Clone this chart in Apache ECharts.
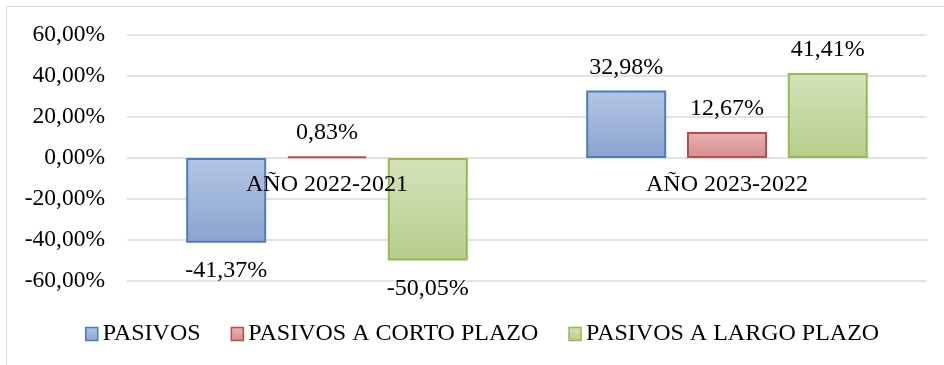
<!DOCTYPE html>
<html>
<head>
<meta charset="utf-8">
<script src="https://cdn.jsdelivr.net/npm/echarts@6/dist/echarts.min.js"></script>
<style>
  html, body { margin: 0; padding: 0; background: #ffffff; }
  #chart { width: 944px; height: 365px; }
</style>
</head>
<body>
<div id="chart"></div>
<script>
// Variación porcentual de los pasivos por periodo
const categories = ['AÑO 2022-2021', 'AÑO 2023-2022'];
const pasivos = [-41.37, 32.98];
const pasivosCorto = [0.83, 12.67];
const pasivosLargo = [-50.05, 41.41];
const seriesNames = ['PASIVOS', 'PASIVOS A CORTO PLAZO', 'PASIVOS A LARGO PLAZO'];
const yTicks = { min: -60, max: 60, interval: 20 };

const FONT = 'Liberation Serif';
const GRID = { left: 127, right: 17, top: 35, bottom: 84 };

function pct(v) {
  return v.toFixed(2).replace('.', ',') + '%';
}

function grad(top, bottom) {
  return new echarts.graphic.LinearGradient(0, 0, 0, 1, [
    { offset: 0, color: top },
    { offset: 1, color: bottom }
  ]);
}

const palettes = [
  { top: '#b3c5e4', bottom: '#8ba4cf', border: '#4a7ebb' },
  { top: '#e6b4b3', bottom: '#d48d8c', border: '#be4b48' },
  { top: '#d4e3ba', bottom: '#b6cd8b', border: '#98b954' }
];

function makeSeries(name, values, pal) {
  return {
    name: name,
    type: 'bar',
    z: 2,
    barWidth: 80,
    barGap: '26%',
    itemStyle: {
      color: grad(pal.top, pal.bottom),
      borderColor: pal.border,
      borderWidth: 2
    },
    data: values.map(v => ({
      value: v,
      label: {
        show: true,
        position: v >= 0 ? 'top' : 'bottom',
        distance: v >= 0 ? 11 : 16,
        formatter: p => pct(p.value),
        fontFamily: FONT,
        fontSize: 24,
        color: '#000'
      }
    }))
  };
}

// Category labels sit on the zero line, so shift the axis up from the grid bottom
const plotHeight = 365 - GRID.top - GRID.bottom;
const zeroOffset = -plotHeight * (0 - yTicks.min) / (yTicks.max - yTicks.min);

const chart = echarts.init(document.getElementById('chart'), null, { renderer: 'canvas' });

chart.setOption({
  animation: false,
  backgroundColor: '#ffffff',
  textStyle: { fontFamily: FONT },
  graphic: [{
    type: 'rect',
    silent: true,
    shape: { x: 6.5, y: 6.5, width: 1000, height: 500 },
    style: { fill: 'none', stroke: '#d9d9d9', lineWidth: 1 }
  }],
  grid: Object.assign({ containLabel: false }, GRID),
  legend: {
    data: seriesNames.map((n, i) => ({
      name: n,
      itemStyle: {
        color: grad(palettes[i].top, palettes[i].bottom),
        borderColor: palettes[i].border,
        borderWidth: 1.5
      }
    })),
    left: 80,
    bottom: 14,
    itemWidth: 12,
    itemHeight: 13,
    itemGap: 30,
    icon: 'rect',
    textStyle: { fontFamily: FONT, fontSize: 24, color: '#000' }
  },
  xAxis: {
    type: 'category',
    data: categories,
    position: 'bottom',
    offset: zeroOffset,
    z: 5,
    axisLine: { show: false, onZero: false },
    axisTick: { show: false },
    axisLabel: { fontFamily: FONT, fontSize: 24, color: '#000', margin: 15 }
  },
  yAxis: {
    type: 'value',
    min: yTicks.min,
    max: yTicks.max,
    interval: yTicks.interval,
    axisLine: { show: false },
    axisTick: { show: false },
    splitLine: { lineStyle: { color: '#d9d9d9', width: 1.5 } },
    axisLabel: {
      fontFamily: FONT,
      fontSize: 23.5,
      color: '#000',
      margin: 22,
      formatter: v => pct(v)
    }
  },
  series: [
    makeSeries(seriesNames[0], pasivos, palettes[0]),
    makeSeries(seriesNames[1], pasivosCorto, palettes[1]),
    makeSeries(seriesNames[2], pasivosLargo, palettes[2])
  ]
});
</script>
</body>
</html>
